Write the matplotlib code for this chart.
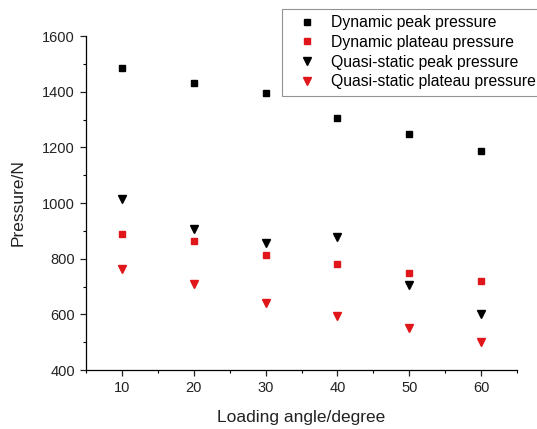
import matplotlib
matplotlib.use("Agg")
import matplotlib.pyplot as plt
from matplotlib.ticker import MultipleLocator

plt.rcParams["font.family"] = ["Liberation Sans", "DejaVu Sans"]

# loading angle (degree)
angle = [10, 20, 30, 40, 50, 60]

# pressures (N)
dyn_peak = [1485, 1430, 1394, 1305, 1247, 1186]
dyn_plateau = [888, 864, 815, 780, 750, 721]
qs_peak = [1016, 906, 855, 877, 707, 600]
qs_plateau = [762, 710, 640, 594, 552, 501]

RED = "#e0161b"

fig = plt.figure(figsize=(5.37, 4.29), dpi=100)
ax = fig.add_axes([0.160, 0.1375, 0.803, 0.7785])

ax.plot(angle, dyn_peak, ls="none", marker="s", ms=5, color="black",
        label="Dynamic peak pressure")
ax.plot(angle, dyn_plateau, ls="none", marker="s", ms=5, color=RED,
        label="Dynamic plateau pressure")
ax.plot(angle, qs_peak, ls="none", marker="v", ms=6, color="black",
        label="Quasi-static peak pressure")
ax.plot(angle, qs_plateau, ls="none", marker="v", ms=6, color=RED,
        label="Quasi-static plateau pressure")

ax.set_xlim(5, 65)
ax.set_ylim(400, 1600)
ax.xaxis.set_major_locator(MultipleLocator(10))
ax.xaxis.set_minor_locator(MultipleLocator(5))
ax.yaxis.set_major_locator(MultipleLocator(200))
ax.yaxis.set_minor_locator(MultipleLocator(100))
ax.spines["top"].set_visible(False)
ax.spines["right"].set_visible(False)
for s in ("left", "bottom"):
    ax.spines[s].set_linewidth(0.9)
ax.tick_params(which="major", direction="out", length=4.5, width=0.9,
               labelsize=10.5, colors="#222222")
ax.tick_params(which="minor", direction="out", length=2.5, width=0.8)

ax.set_xlabel("Loading angle/degree", fontsize=12.5, color="#222222",
              labelpad=11)
ax.set_ylabel("Pressure/N", fontsize=12.5, color="#222222", labelpad=12)

leg = ax.legend(loc="upper left", bbox_to_anchor=(282 / 537, 1 - 9 / 429),
                bbox_transform=fig.transFigure, fontsize=11.3, fancybox=False,
                frameon=True, handletextpad=0.3, labelspacing=0.3,
                borderpad=0.4, handlelength=2.4, borderaxespad=0)
leg.get_frame().set_edgecolor("#777777")
leg.get_frame().set_linewidth(0.8)

fig.savefig("out.png", dpi=100)
